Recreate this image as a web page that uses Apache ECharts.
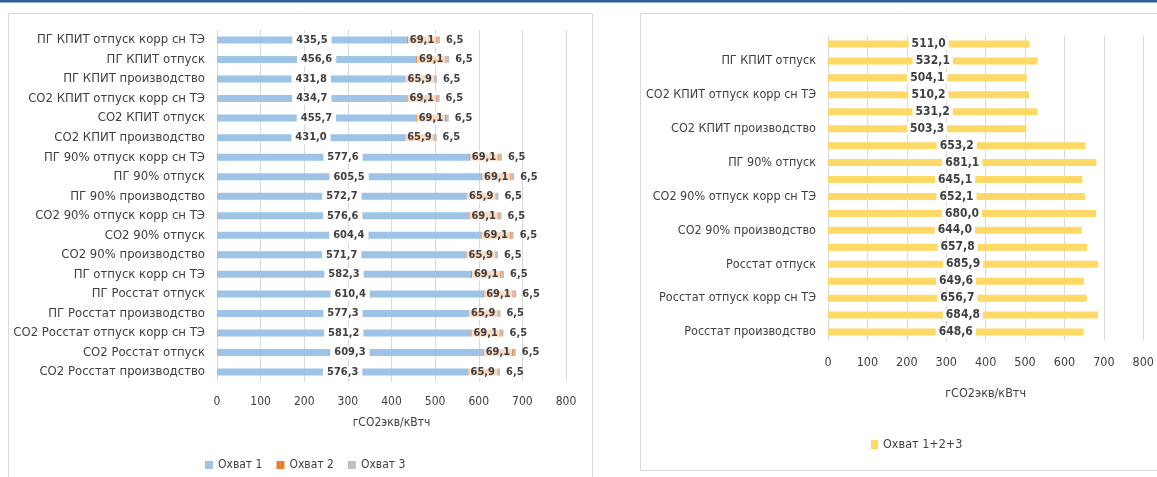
<!DOCTYPE html>
<html>
<head>
<meta charset="utf-8">
<script src="https://cdn.jsdelivr.net/npm/echarts@6/dist/echarts.min.js"></script>
<style>
html,body{margin:0;padding:0;background:#fff;}
#c{width:1157px;height:477px;}
</style>
</head>
<body>
<div id="c"></div>
<script>
// Left chart (top to bottom)
const leftCategories = [
  'ПГ КПИТ отпуск корр сн ТЭ','ПГ КПИТ отпуск','ПГ КПИТ производство',
  'CO2 КПИТ отпуск корр сн ТЭ','CO2 КПИТ отпуск','CO2 КПИТ производство',
  'ПГ 90% отпуск корр сн ТЭ','ПГ 90% отпуск','ПГ 90% производство',
  'CO2 90% отпуск корр сн ТЭ','CO2 90% отпуск','CO2 90% производство',
  'ПГ отпуск корр сн ТЭ','ПГ Росстат отпуск','ПГ Росстат производство',
  'CO2 Росстат отпуск корр сн ТЭ','CO2 Росстат отпуск','CO2 Росстат производство'
];
const scope1 = [435.5,456.6,431.8,434.7,455.7,431.0,577.6,605.5,572.7,576.6,604.4,571.7,582.3,610.4,577.3,581.2,609.3,576.3];
const scope2 = [69.1,69.1,65.9,69.1,69.1,65.9,69.1,69.1,65.9,69.1,69.1,65.9,69.1,69.1,65.9,69.1,69.1,65.9];
const scope3 = [6.5,6.5,6.5,6.5,6.5,6.5,6.5,6.5,6.5,6.5,6.5,6.5,6.5,6.5,6.5,6.5,6.5,6.5];

// Right chart (top to bottom); only odd rows show their label
const rightCategories = [
  'ПГ КПИТ отпуск корр сн ТЭ','ПГ КПИТ отпуск','ПГ КПИТ производство',
  'CO2 КПИТ отпуск корр сн ТЭ','CO2 КПИТ отпуск','CO2 КПИТ производство',
  'ПГ 90% отпуск корр сн ТЭ','ПГ 90% отпуск','ПГ 90% производство',
  'CO2 90% отпуск корр сн ТЭ','CO2 90% отпуск','CO2 90% производство',
  'ПГ отпуск корр сн ТЭ','Росстат отпуск','ПГ Росстат производство',
  'Росстат отпуск корр сн ТЭ','CO2 Росстат отпуск','Росстат производство'
];
const scopeTotal = [511.0,532.1,504.1,510.2,531.2,503.3,653.2,681.1,645.1,652.1,680.0,644.0,657.8,685.9,649.6,656.7,684.8,648.6];

const xTicks = {min:0, max:800, interval:100};

const FONT = '"Liberation Sans Narrow","DejaVu Sans Condensed","Liberation Sans",sans-serif';
const TXT = '#404040';
const fmt = p => p.value.toFixed(1).replace('.', ',');

const chart = echarts.init(document.getElementById('c'), null, {renderer:'canvas'});
const yBase = (cats, fs, intervalFn) => ({
  type:'category', data:cats, inverse:true,
  axisLine:{show:false}, axisTick:{show:false},
  axisLabel:{color:TXT, fontFamily:FONT, fontSize:fs, margin:12, interval:intervalFn}
});
const xBase = (fs, margin, gap) => ({
  type:'value', min:xTicks.min, max:xTicks.max, interval:xTicks.interval,
  axisLine:{show:false}, axisTick:{show:false},
  axisLabel:{color:TXT, fontFamily:FONT, fontSize:fs, margin:margin},
  splitLine:{show:true, lineStyle:{color:'#d9d9d9', width:1}},
  name:'гCO2экв/кВтч', nameLocation:'middle', nameGap:gap,
  nameTextStyle:{color:TXT, fontFamily:FONT, fontSize:fs}
});

chart.setOption({
  animation:false,
  textStyle:{fontFamily:FONT},
  graphic:[
    {type:'rect', shape:{x:0,y:0,width:1157,height:2.5}, style:{fill:'#2E5C99'}, z:-10},
    {type:'rect', shape:{x:8.5,y:13.5,width:584,height:480}, style:{fill:'#fff', stroke:'#d9d9d9', lineWidth:1}, z:-10},
    {type:'rect', shape:{x:640.5,y:13.5,width:540,height:457}, style:{fill:'#fff', stroke:'#d9d9d9', lineWidth:1}, z:-10}
  ],
  grid:[
    {left:217, top:30.2, width:349, height:351.6, containLabel:false},
    {left:828, top:35.5, width:318, height:305, containLabel:false}
  ],
  xAxis:[ Object.assign(xBase(12, 14, 35), {gridIndex:0}), Object.assign(xBase(12.5, 16, 47), {gridIndex:1}) ],
  yAxis:[
    Object.assign(yBase(leftCategories, 13, 0), {gridIndex:0}),
    Object.assign(yBase(rightCategories, 12.5, (i) => i % 2 === 1), {gridIndex:1})
  ],
  legend:[
    {data:['Охват 1','Охват 2','Охват 3'], left:200, top:454, icon:'rect', itemWidth:8, itemHeight:8, itemGap:14,
     textStyle:{color:TXT, fontFamily:FONT, fontSize:12}},
    {data:['Охват 1+2+3'], left:866, top:433, icon:'rect', itemWidth:7, itemHeight:9, itemGap:10,
     textStyle:{color:TXT, fontFamily:FONT, fontSize:12.5}}
  ],
  series:[
    {name:'Охват 1', type:'bar', stack:'a', xAxisIndex:0, yAxisIndex:0, data:scope1, barWidth:7,
     itemStyle:{color:'#9DC3E6'},
     label:{show:true, position:'inside', formatter:fmt, color:TXT, fontWeight:'bold', fontFamily:FONT, fontSize:11,
            backgroundColor:'#fff', padding:[1,4]}},
    {name:'Охват 2', type:'bar', stack:'a', xAxisIndex:0, yAxisIndex:0, data:scope2, barWidth:7,
     itemStyle:{color:'#ED7D31'},
     label:{show:true, position:'inside', formatter:fmt, color:TXT, fontWeight:'bold', fontFamily:FONT, fontSize:11,
            backgroundColor:'rgba(255,255,255,0.72)', padding:[1,2]}},
    {name:'Охват 3', type:'bar', stack:'a', xAxisIndex:0, yAxisIndex:0, data:scope3, barWidth:7,
     itemStyle:{color:'#BFBFBF'},
     label:{show:true, position:'right', distance:6, formatter:fmt, color:TXT, fontWeight:'bold', fontFamily:FONT, fontSize:11}},
    {name:'Охват 1+2+3', type:'bar', xAxisIndex:1, yAxisIndex:1, data:scopeTotal, barWidth:7,
     itemStyle:{color:'#FFD966'},
     label:{show:true, position:'inside', formatter:fmt, color:TXT, fontWeight:'bold', fontFamily:FONT, fontSize:12,
            backgroundColor:'#fff', padding:[0,3]}}
  ]
});
</script>
</body>
</html>
